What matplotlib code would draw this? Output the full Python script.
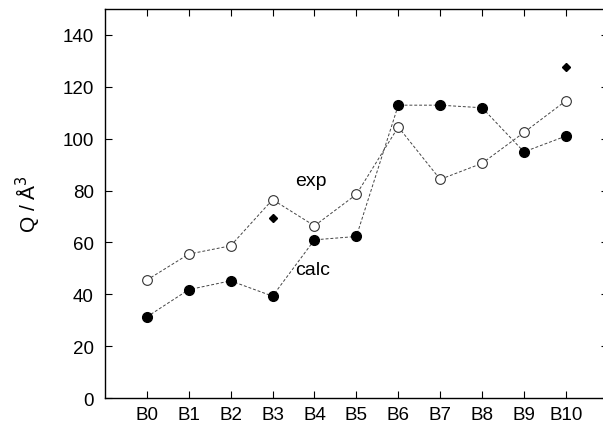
import matplotlib.pyplot as plt

plt.rcParams['font.family'] = ['Liberation Sans', 'DejaVu Sans']

categorias = ['B0', 'B1', 'B2', 'B3', 'B4', 'B5', 'B6', 'B7', 'B8', 'B9', 'B10']
exp_vals = [45.5, 55.5, 58.7, 76.5, 66.4, 78.5, 104.5, 84.3, 90.5, 102.4, 114.6]
calc_vals = [31.3, 41.8, 45.2, 39.3, 61.0, 62.3, 112.9, 112.9, 111.9, 94.9, 101.0]
extra_idx = [3, 10]
extra_vals = [69.5, 127.8]

x = list(range(len(categorias)))

fig = plt.figure(figsize=(6.03, 4.31), dpi=100)
ax = fig.add_axes([0.174, 0.074, 0.834, 0.903])

# lineas punteadas con marcadores
ax.plot(x, exp_vals, linestyle='--', dashes=(3, 2), color='#444444', linewidth=0.7,
        marker='o', markersize=7, markerfacecolor='white', markeredgecolor='#333333',
        markeredgewidth=0.8)
ax.plot(x, calc_vals, linestyle='--', dashes=(3, 2), color='#444444', linewidth=0.7,
        marker='o', markersize=7, markerfacecolor='black', markeredgecolor='black')
ax.plot(extra_idx, extra_vals, linestyle='none', marker='D', markersize=4,
        color='black')

ax.text(3.55, 84, 'exp', fontsize=14, va='center', ha='left')
ax.text(3.55, 49.5, 'calc', fontsize=14, va='center', ha='left')

ax.set_xlim(-1, 11)
ax.set_ylim(0, 150)
ax.set_xticks(x)
ax.set_xticklabels(categorias)
ax.set_yticks(range(0, 141, 20))
ax.tick_params(direction='in', labelsize=13.5, top=True, right=True, length=5,
               width=0.8)
ax.tick_params(axis='x', pad=6)
ax.tick_params(axis='y', pad=8)
ax.set_ylabel('Q / Å$^3$', fontsize=15, labelpad=14)
for s in ax.spines.values():
    s.set_linewidth(1.0)

plt.savefig('out.png', format='png', dpi=100)
